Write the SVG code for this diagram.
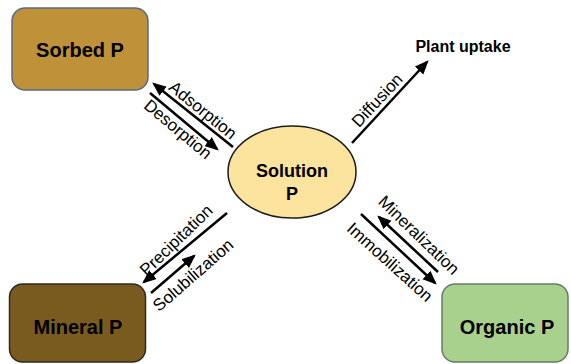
<svg xmlns="http://www.w3.org/2000/svg" width="571" height="364" viewBox="0 0 571 364">
<style>
.box{stroke-width:1.5}
.title{font-family:"Liberation Sans",Arial,sans-serif;font-weight:bold;font-size:20px;fill:#000;text-anchor:middle}
.lbl{font-family:"Liberation Sans",Arial,sans-serif;font-size:17px;fill:#000;text-anchor:middle}
.arr{stroke:#000;stroke-width:2.5;fill:none;marker-end:url(#ah)}
</style>
<defs>
<marker id="ah" viewBox="0 0 12 10" refX="10" refY="5" markerWidth="14" markerHeight="12" markerUnits="userSpaceOnUse" orient="auto">
<path d="M0,0 L12,5 L0,10 z" fill="#000"/>
</marker>
</defs>
<rect width="571" height="364" fill="#fff"/>
<g id="sorbed">
<rect class="box" x="12" y="8" width="136" height="82" rx="13" fill="#BF9138" stroke="#5B6A84"/>
<text class="title" x="80" y="57">Sorbed P</text>
</g>
<g id="mineral">
<rect class="box" x="9.5" y="284" width="136" height="78" rx="13" fill="#7A5B1F" stroke="#2E2A22"/>
<text class="title" x="78" y="334">Mineral P</text>
</g>
<g id="organic">
<rect class="box" x="442" y="284" width="126" height="78" rx="13" fill="#A9D18E" stroke="#6A7A6A"/>
<text class="title" x="507" y="334">Organic P</text>
</g>
<g id="solution">
<ellipse cx="292" cy="172" rx="64" ry="46" fill="#FCE39E" stroke="#1A1A1A" stroke-width="1.5"/>
<text class="title" x="292" y="177" style="font-size:18px">Solution</text>
<text class="title" x="292" y="200" style="font-size:18px">P</text>
</g>
<g id="plant">
<text class="title" x="463" y="52" style="font-size:16px">Plant uptake</text>
</g>
<g id="connectors">
<line class="arr" x1="233" y1="147" x2="154" y2="84"/>
<line class="arr" x1="150" y1="93" x2="217" y2="149"/>
<line class="arr" x1="352" y1="143" x2="427" y2="62"/>
<line class="arr" x1="227" y1="213" x2="144" y2="282"/>
<line class="arr" x1="151" y1="293" x2="194" y2="256"/>
<line class="arr" x1="438" y1="272" x2="379" y2="217"/>
<line class="arr" x1="361" y1="214" x2="435" y2="283"/>
<text class="lbl" transform="translate(203,110) rotate(39)" dy="0.35em">Adsorption</text>
<text class="lbl" transform="translate(178,129) rotate(40)" dy="0.35em">Desorption</text>
<text class="lbl" transform="translate(377,100) rotate(-47)" dy="0.35em">Diffusion</text>
<text class="lbl" transform="translate(176,240) rotate(-44)" dy="0.35em">Precipitation</text>
<text class="lbl" transform="translate(193,275) rotate(-41)" dy="0.35em">Solubilization</text>
<text class="lbl" transform="translate(419,235) rotate(44)" dy="0.35em">Mineralization</text>
<text class="lbl" transform="translate(390,262) rotate(42)" dy="0.35em">Immobilization</text>
</g>
</svg>
